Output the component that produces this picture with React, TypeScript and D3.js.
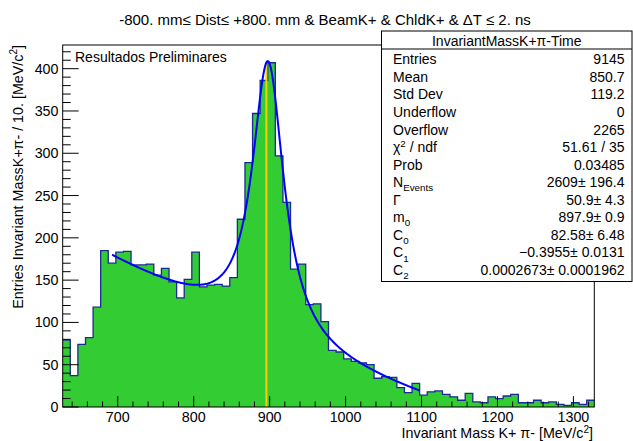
import React from "react";
import * as d3 from "d3";

// ---- data ----
const binCounts: number[] = [
  79, 37, 74, 82, 118, 185, 170, 183, 184, 168,
  168, 169, 156, 164, 148, 129, 151, 183, 142, 144,
  145, 143, 153, 222, 289, 347, 386, 407, 297, 242,
  163, 169, 121, 122, 101, 67, 65, 57, 54, 52,
  50, 34, 36, 35, 23, 17, 28, 14, 18, 19,
  15, 12, 8, 16, 6, 5, 12, 10, 13, 15,
  5, 5, 8, 5, 6, 3, 2, 5, 3, 8,
];
const histMin = 627.5;
const binWidth = 10;
const yMaxValue = 428;

const xTickLabels: number[] = [700, 800, 900, 1000, 1100, 1200, 1300];
const yTickLabels: number[] = [0, 50, 100, 150, 200, 250, 300, 350, 400];

// fit: Breit-Wigner + quadratic background around m0
const fitN = 2609;
const fitGamma = 50.9;
const fitM0 = 897.9;
const fitC0 = 82.58;
const fitC1 = -0.3955;
const fitC2 = 0.0002673;
const fitRange: number[] = [692.5, 1098];
const markerLineX = 895.7;

const statLabels: string[] = [
  "Entries", "Mean", "Std Dev", "Underflow", "Overflow", "χ^{2} / ndf", "Prob",
  "N_{Events}", "Γ", "m_{0}", "C_{0}", "C_{1}", "C_{2}",
];
const statValues: string[] = [
  "9145", "850.7", "119.2", "0", "2265", "51.61 / 35", "0.03485",
  "2609± 196.4", "50.9± 4.3", "897.9± 0.9", "82.58± 6.48",
  "−0.3955± 0.0131", "0.0002673± 0.0001962",
];

const titleText = "-800. mm≤ Dist≤ +800. mm & BeamK+ & ChldK+ & ΔT ≤ 2. ns";
const statTitle = "InvariantMassK+π-Time";
const noteText = "Resultados Preliminares";

const FONT = "'Liberation Sans', Arial, Helvetica, sans-serif";

function fitFunc(m: number): number {
  const d = m - fitM0;
  const bw = (fitN * binWidth * (fitGamma / (2 * Math.PI))) / (d * d + (fitGamma * fitGamma) / 4);
  return bw + fitC0 + fitC1 * d + fitC2 * d * d;
}

function renderRich(s: string, size: number, supRise = 0.38) {
  const parts: React.ReactNode[] = [];
  const re = /([_^])\{([^}]*)\}/g;
  let last = 0;
  let m: RegExpExecArray | null;
  let k = 0;
  let pendingDy = 0;
  while ((m = re.exec(s)) !== null) {
    if (m.index > last) {
      parts.push(<tspan key={k++} dy={pendingDy || undefined}>{s.slice(last, m.index)}</tspan>);
      pendingDy = 0;
    }
    const isSub = m[1] === "_";
    const shift = isSub ? size * 0.3 : -size * supRise;
    parts.push(
      <tspan key={k++} dy={shift + pendingDy} fontSize={size * 0.7}>{m[2]}</tspan>
    );
    pendingDy = -shift;
    last = re.lastIndex;
  }
  if (last < s.length) parts.push(<tspan key={k++} dy={pendingDy || undefined}>{s.slice(last)}</tspan>);
  return parts;
}

export default function App() {
  const W = 633, H = 441;
  const left = 62.7, right = 594.3, top = 45, bottom = 407;
  const x = d3.scaleLinear().domain([histMin, histMin + binCounts.length * binWidth]).range([left, right]);
  const y = d3.scaleLinear().domain([0, yMaxValue]).range([bottom, top]);

  const stepPts: [number, number][] = binCounts.map((c, i) => [histMin + i * binWidth, c]);
  stepPts.push([histMin + binCounts.length * binWidth, binCounts[binCounts.length - 1]]);

  const area = d3.area<[number, number]>()
    .x(d => x(d[0])).y0(y(0)).y1(d => y(d[1])).curve(d3.curveStepAfter);
  const line = d3.line<[number, number]>()
    .x(d => x(d[0])).y(d => y(d[1])).curve(d3.curveStepAfter);

  const fitXs = d3.range(fitRange[0], fitRange[1] + 0.01, 1);
  const fitLine = d3.line<number>().x(d => x(d)).y(d => y(fitFunc(d)));

  const xMajor = xTickLabels;
  const xMinor = d3.range(640, 1327, 20).filter(v => v % 100 !== 0);
  const yMajor = yTickLabels;
  const yMinor = d3.range(10, yMaxValue, 10).filter(v => v % 50 !== 0);

  const xTickLen = 0.03 * (bottom - top);
  const yTickLen = 0.03 * (right - left);

  const boxL = 381.5, boxR = 632, boxT = 31, boxB = 281.5, headerY = 49;
  const rowY0 = 64.3, rowDy = 17.55;
  const fs = 14;

  return (
    <svg width={W} height={H} style={{ position: "absolute", left: 0, top: 0, background: "#fff" }} fontFamily={FONT}>
      <rect x={0} y={0} width={W} height={H} fill="#fff" />
      {/* histogram */}
      <path d={area(stepPts) || ""} fill="#33cc33" stroke="none" />
      <path d={line(stepPts) || ""} fill="none" stroke="#1c2a96" strokeWidth={1.3} />
      {/* marker line */}
      <line x1={x(markerLineX)} x2={x(markerLineX)} y1={y(0)} y2={y(fitFunc(markerLineX))} stroke="#ffcc00" strokeWidth={2} />
      {/* fit */}
      <path d={fitLine(fitXs) || ""} fill="none" stroke="#0000ff" strokeWidth={2} />

      {/* frame */}
      <rect x={left} y={top} width={right - left} height={bottom - top} fill="none" stroke="#000" strokeWidth={1} />

      {/* x ticks */}
      {xMajor.map(v => (
        <line key={"xm" + v} x1={x(v)} x2={x(v)} y1={bottom} y2={bottom - xTickLen} stroke="#000" strokeWidth={1} />
      ))}
      {xMinor.map(v => (
        <line key={"xn" + v} x1={x(v)} x2={x(v)} y1={bottom} y2={bottom - xTickLen / 2} stroke="#000" strokeWidth={1} />
      ))}
      {xTickLabels.map(v => (
        <text key={"xl" + v} x={x(v)} y={421.5} textAnchor="middle" fontSize={14.3} fill="#000">{v}</text>
      ))}

      {/* y ticks */}
      {yMajor.map(v => (
        <line key={"ym" + v} x1={left} x2={left + yTickLen} y1={y(v)} y2={y(v)} stroke="#000" strokeWidth={1} />
      ))}
      {yMinor.map(v => (
        <line key={"yn" + v} x1={left} x2={left + yTickLen / 2} y1={y(v)} y2={y(v)} stroke="#000" strokeWidth={1} />
      ))}
      {yTickLabels.map(v => (
        <text key={"yl" + v} x={58.5} y={y(v) + 5} textAnchor="end" fontSize={14.3} fill="#000">{v}</text>
      ))}

      {/* axis titles */}
      <text x={593} y={437.5} textAnchor="end" fontSize={14.3} fill="#000">
        {renderRich("Invariant Mass K+ π- [MeV/c^{2}]", 14.3, 0.3)}
      </text>
      <text transform={`translate(22.5,${top}) rotate(-90)`} textAnchor="end" fontSize={14.3} fill="#000">
        {renderRich("Entries Invariant MassK+π- / 10. [MeV/c^{2}]", 14.3)}
      </text>

      {/* title */}
      <text x={325} y={25} textAnchor="middle" fontSize={15} fill="#000">{titleText}</text>

      {/* note */}
      <text x={75} y={62} fontSize={14} fill="#000">{noteText}</text>

      {/* stats box */}
      <rect x={boxL} y={boxT} width={boxR - boxL} height={boxB - boxT} fill="#fff" stroke="#000" strokeWidth={1} />
      <line x1={boxL} x2={boxR} y1={headerY} y2={headerY} stroke="#000" strokeWidth={1} />
      <text x={(boxL + boxR) / 2} y={45.5} textAnchor="middle" fontSize={fs} fill="#000">{statTitle}</text>
      {statLabels.map((lab, i) => (
        <g key={"st" + i}>
          <text x={393} y={rowY0 + i * rowDy} fontSize={fs} fill="#000">{renderRich(lab, fs)}</text>
          <text x={624.5} y={rowY0 + i * rowDy} textAnchor="end" fontSize={fs} fill="#000">{statValues[i]}</text>
        </g>
      ))}
    </svg>
  );
}
